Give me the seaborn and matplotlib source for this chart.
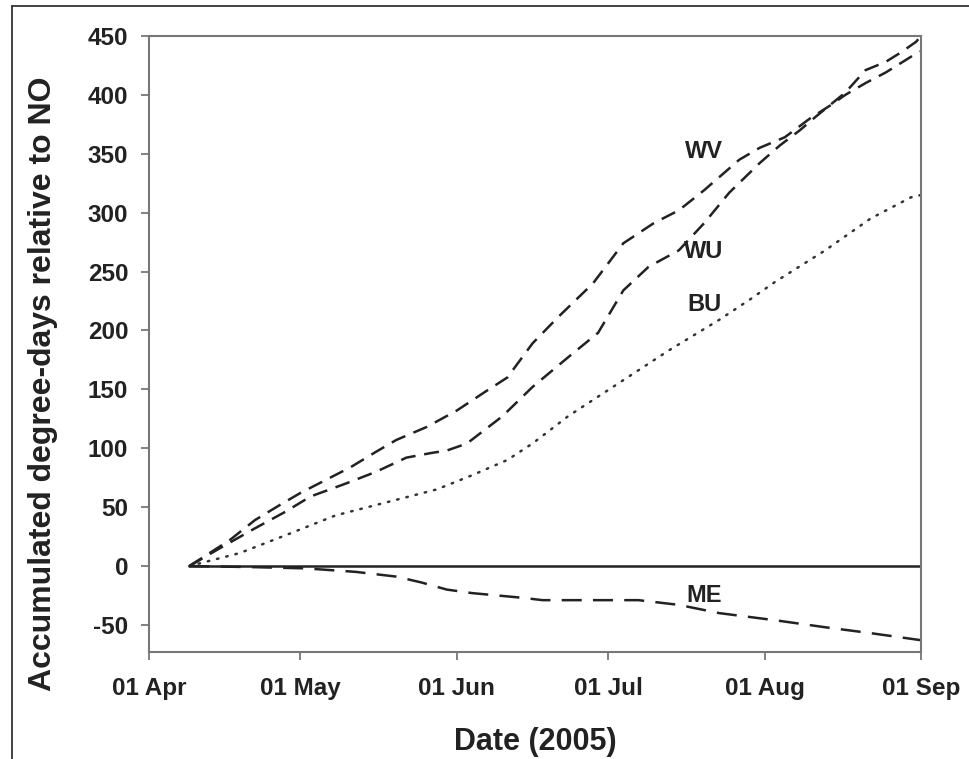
import pandas as pd
import seaborn as sns
import matplotlib.pyplot as plt
import matplotlib.dates as mdates
from matplotlib.lines import Line2D

# accumulated degree-days relative to NO
wv_dates = ["2005-04-09", "2005-04-17", "2005-04-22", "2005-04-27", "2005-05-01", "2005-05-06",
            "2005-05-11", "2005-05-16", "2005-05-20", "2005-05-26", "2005-06-01", "2005-06-07",
            "2005-06-11", "2005-06-16", "2005-06-21", "2005-06-28", "2005-07-04", "2005-07-10",
            "2005-07-15", "2005-07-20", "2005-07-27", "2005-07-31", "2005-08-05", "2005-08-10",
            "2005-08-14", "2005-08-17", "2005-08-21", "2005-08-25", "2005-08-31", "2005-09-01"]
wv_values = [0, 22, 39, 52, 62, 73, 84, 97, 107, 118, 132, 149, 160, 189, 211, 240, 274, 291,
             302, 319, 345, 355, 364, 380, 391, 400, 410, 419, 435, 437]

wu_dates = ["2005-04-09", "2005-04-15", "2005-04-22", "2005-04-28", "2005-05-03", "2005-05-10",
            "2005-05-16", "2005-05-22", "2005-05-27", "2005-05-30", "2005-06-03", "2005-06-10",
            "2005-06-16", "2005-06-23", "2005-06-29", "2005-07-04", "2005-07-09", "2005-07-15",
            "2005-07-20", "2005-07-25", "2005-07-31", "2005-08-04", "2005-08-08", "2005-08-11",
            "2005-08-17", "2005-08-21", "2005-08-25", "2005-08-28", "2005-08-31", "2005-09-01"]
wu_values = [0, 15, 32, 46, 59, 70, 80, 92, 96, 98, 104, 127, 152, 177, 198, 234, 254, 268,
             291, 317, 342, 357, 370, 381, 402, 421, 428, 436, 445, 450]

bu_dates = ["2005-04-09", "2005-04-19", "2005-04-28", "2005-05-08", "2005-05-18", "2005-05-28",
            "2005-06-04", "2005-06-11", "2005-06-16", "2005-06-23", "2005-07-03", "2005-07-13",
            "2005-07-23", "2005-07-29", "2005-08-03", "2005-08-13", "2005-08-16", "2005-08-22",
            "2005-08-30", "2005-09-01"]
bu_values = [0, 11, 26, 43, 54, 65, 77, 90, 104, 127, 155, 183, 209, 226, 241, 268, 277, 295,
             313, 315]

me_dates = ["2005-04-09", "2005-04-22", "2005-05-02", "2005-05-12", "2005-05-20", "2005-05-25",
            "2005-05-30", "2005-06-04", "2005-06-14", "2005-06-18", "2005-06-30", "2005-07-07",
            "2005-07-15", "2005-07-23", "2005-08-03", "2005-08-13", "2005-08-22", "2005-09-01"]
me_values = [0, -1, -2, -5, -9, -14, -20, -23, -27, -29, -29, -29, -33, -40, -46, -52, -57, -63]

no_dates = ["2005-04-09", "2005-09-01"]
no_values = [0, 0]

labels = ["WV", "WU", "BU", "ME"]
label_pos = [("2005-07-20", 352), ("2005-07-20", 267), ("2005-07-20", 222), ("2005-07-20", -25)]

sns.set_style("ticks")
plt.rcParams["font.family"] = ["Liberation Sans", "DejaVu Sans"]
plt.rcParams["font.weight"] = "bold"
plt.rcParams["axes.unicode_minus"] = False

fig = plt.figure(figsize=(9.69, 7.59), dpi=100)
ax = fig.add_axes([0.1538, 0.1410, 0.7967, 0.8116])


def frame(d, v):
    return pd.DataFrame({"date": pd.to_datetime(d), "value": v})


sns.lineplot(data=frame(no_dates, no_values), x="date", y="value", ax=ax,
             color="#222222", linewidth=1.8)
sns.lineplot(data=frame(wv_dates, wv_values), x="date", y="value", ax=ax,
             color="#222222", linewidth=1.8, linestyle=(0, (6, 3.5)))
sns.lineplot(data=frame(wu_dates, wu_values), x="date", y="value", ax=ax,
             color="#222222", linewidth=1.8, linestyle=(0, (6, 3.5)))
sns.lineplot(data=frame(bu_dates, bu_values), x="date", y="value", ax=ax,
             color="#333333", linewidth=1.8, linestyle=(0, (0.6, 3.2)),
             dash_capstyle="round")
sns.lineplot(data=frame(me_dates, me_values), x="date", y="value", ax=ax,
             color="#222222", linewidth=1.8, linestyle=(0, (8, 4.5)))

for name, (d, v) in zip(labels, label_pos):
    ax.text(pd.Timestamp(d), v, name, ha="center", va="center",
            fontsize=17, fontweight="bold", color="#222222")

ax.set_xlim(pd.Timestamp("2005-04-01"), pd.Timestamp("2005-09-01"))
ax.set_ylim(-73, 450)
ax.set_yticks(range(-50, 451, 50))
ax.xaxis.set_major_locator(mdates.MonthLocator())
ax.xaxis.set_major_formatter(mdates.DateFormatter("%d %b"))

ax.set_xlabel("Date (2005)", fontsize=22, fontweight="bold", color="#222222")
ax.set_ylabel("Accumulated degree-days relative to NO", fontsize=23, fontweight="bold",
              color="#222222")
ax.xaxis.set_label_coords(0.50, -0.122)
ax.yaxis.set_label_coords(-0.118, 0.435)
ax.tick_params(axis="both", direction="out", length=6, width=1.3, color="#777777",
               labelsize=17.5, labelcolor="#222222")
ax.tick_params(axis="y", pad=9)
ax.tick_params(axis="x", pad=12)
for lab in ax.get_xticklabels() + ax.get_yticklabels():
    lab.set_fontweight("bold")
for s in ax.spines.values():
    s.set_visible(True)
    s.set_color("#777777")
    s.set_linewidth(1.5)

# thin border that frames the figure on the top and left
fig.add_artist(Line2D([12 / 969, 1.0], [1 - 6 / 759, 1 - 6 / 759], color="#222222", linewidth=1.2))
fig.add_artist(Line2D([12 / 969, 12 / 969], [0.0, 1 - 6 / 759], color="#222222", linewidth=1.2))

fig.savefig("out.png", dpi=100)
